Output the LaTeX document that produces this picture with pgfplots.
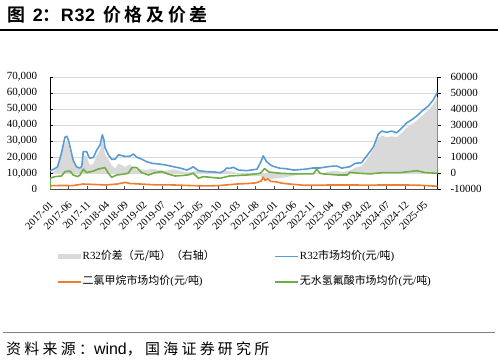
\documentclass[border=0pt]{standalone}
\usepackage{fontspec}
\setmainfont{Liberation Serif}
\newfontfamily\cjk{Noto Sans CJK SC}
\newfontfamily\cjktitle{Noto Sans CJK SC Bold}[LetterSpace=21]
\newfontfamily\lattitle{Liberation Sans Bold}[LetterSpace=4]
\newfontfamily\cjkfoot{Noto Sans CJK SC}[LetterSpace=22]
\newfontfamily\latfoot{Liberation Sans}
\usepackage{pgfplots}
\pgfplotsset{compat=1.18}
\definecolor{cblue}{RGB}{91,155,213}
\definecolor{corange}{RGB}{237,125,49}
\definecolor{cgreen}{RGB}{112,173,71}
\definecolor{cgray}{RGB}{217,217,217}
\definecolor{cgrid}{RGB}{217,217,217}
\pgfplotsset{
  common/.style={
    at={(50bp,173.7bp)}, anchor=south west, scale only axis,
    width=387.5bp, height=112.3bp, xmin=0, xmax=103.6,
    scaled y ticks=false, scaled x ticks=false,
    legend style={draw=none, fill=none, anchor=north west, inner sep=0pt,
      row sep=12.5bp, font=\fontsize{11}{13}\selectfont,
      nodes={inner sep=1.2bp, text height=8bp, text depth=2.5bp}},
    legend cell align=left,
  }
}
\begin{document}
\begin{tikzpicture}
\useasboundingbox (0bp,0bp) rectangle (498bp,363bp);
\node[anchor=base west, inner sep=0pt] at (7bp,341bp) {\fontsize{18}{21}\cjktitle 图 {\lattitle 2}：{\lattitle R32} 价格及价差};
\draw[line width=1.2bp] (0bp,333bp) -- (498bp,333bp);
\draw[line width=1.3bp, color=black!50] (3bp,30.7bp) -- (495bp,30.7bp);
\node[anchor=base west, inner sep=0pt] at (6bp,8.5bp) {\fontsize{15}{18}\cjkfoot 资料来源：{\latfoot\fontsize{16}{18}\selectfont wind}，国海证券研究所};

% right axis: spread (area)
\begin{axis}[common,
  ymin=-10000, ymax=60000,
  axis x line=none, axis y line*=right,
  ytick={-10000,0,10000,20000,30000,40000,50000,60000},
  yticklabels={-10000,0,10000,20000,30000,40000,50000,60000},
  ymajorgrids, grid style={cgrid, line width=0.8bp},
  tick align=outside, major tick length=3bp,
  y axis line style={black, line width=0.8bp},
  ytick style={black, line width=0.8bp},
  yticklabel style={font=\fontsize{11}{13}\selectfont, inner sep=0pt, anchor=west, xshift=9.8bp},
  legend style={at={(axis description cs:0.0173,-0.54)}},
  legend image code/.code={\draw[#1] (0bp,0bp) -- (23bp,0bp);},
]
\addplot[fill=cgray, draw=none,
  legend image code/.code={\fill[cgray] (0bp,-2.5bp) rectangle (23bp,2.5bp);}]
coordinates {
(0,300) (1,1000) (2,3500) (3,12000) (4,19000) (4.5,20000) (5,17000) (5.5,12000) (6.2,7000) (7.1,3500) (8,2800) (8.5,4000) (8.9,10500) (9.8,11000) (10.3,7000) (10.7,5000) (11.6,6000) (12.5,11000) (13.4,14500) (14,21500) (14.4,17000) (14.7,12000) (15.6,8500) (16.5,5000) (17.4,3000) (18.3,6000) (19.2,5000) (20.1,4000) (21.4,5500) (22.3,3500) (23.2,2000) (24.5,2500) (25.9,2000) (27.2,2800) (29,2000) (30.8,1500) (33,2500) (34.8,1500) (36.6,500) (38.3,1000) (39.7,1500) (41.9,1200) (44,800) (45.5,600) (47.3,1500) (49,1000) (50.4,-500) (52.6,-1500) (55.3,-2000) (56.2,-1500) (57,-4000) (57.9,-4500) (59.3,-3500) (61.5,-3000) (63,-2500) (65.1,-1500) (68.6,-500) (70.4,500) (72.2,-500) (74.9,1200) (76.7,1500) (78,800) (80.2,1500) (81.6,3500) (83.3,4500) (84.2,7000) (85.6,11500) (86.5,15000) (87.8,22000) (88.7,23500) (90,22500) (91.4,23000) (92.7,22500) (94,25000) (95.4,28500) (96.7,30500) (98.1,33000) (99.8,36500) (101.2,39500) (102.5,43000) (103.6,47500)
} \closedcycle;
\addlegendentry{R32{\cjk 价差（元/吨）（右轴）}}
\addlegendimage{corange, line width=1.6bp}
\addlegendentry{{\cjk 二氯甲烷市场均价}({\cjk 元}/{\cjk 吨})}
\end{axis}

% left axis: prices
\begin{axis}[common,
  ymin=0, ymax=70000,
  axis x line*=bottom, axis y line*=left,
  xtick={0,5,...,100},
  xticklabels={2017-01,2017-06,2017-11,2018-04,2018-09,2019-02,2019-07,2019-12,2020-05,2020-10,2021-03,2021-08,2022-01,2022-06,2022-11,2023-04,2023-09,2024-02,2024-07,2024-12,2025-05},
  ytick={0,10000,20000,30000,40000,50000,60000,70000},
  yticklabels={{0},{10,000},{20,000},{30,000},{40,000},{50,000},{60,000},{70,000}},
  tick align=inside, major tick length=3bp,
  y axis line style={black, line width=0.8bp},
  x axis line style={black!70, line width=0.8bp},
  ytick style={black, line width=0.8bp},
  xtick style={black!70, line width=0.8bp},
  yticklabel style={font=\fontsize{11}{13}\selectfont, inner sep=0pt, xshift=-12.7bp},
  xticklabel style={font=\fontsize{10.5}{12}\selectfont, inner sep=0pt, xshift=-1bp, yshift=-11bp, rotate=45, anchor=north east},
  legend style={at={(axis description cs:0.578,-0.54)}},
  legend image code/.code={\draw[#1] (0bp,0bp) -- (23bp,0bp);},
]
\addplot[corange, line width=1.6bp, line join=round, forget plot] coordinates {
(0,2200) (3,2400) (6,2300) (8.9,3300) (12,3000) (15,2700) (18,3300) (20.1,4300) (21.5,3600) (24,3300) (28,2800) (33,2700) (38,2300) (42,2100) (45,2300) (47,2700) (50,3300) (53,3600) (55,4000) (56.5,5200) (57,7500) (57.5,5500) (58.2,6500) (59,5000) (60.5,4600) (62,3800) (64,3300) (68,2500) (72,2600) (76,2700) (80,2700) (85,2600) (90,2700) (95,2700) (99,2500) (103.6,1900)
};
\addplot[cblue, line width=1.6bp, line join=round] coordinates {
(0,11500) (1,12500) (2,14000) (3,22000) (4,32500) (4.5,33000) (5,30000) (5.5,25000) (6.2,18000) (7.1,14000) (8,13200) (8.5,14500) (8.9,23500) (9.8,23500) (10.3,20500) (10.7,19400) (11.6,19800) (12.5,24500) (13.4,27700) (14,34000) (14.4,31000) (14.7,26000) (15.6,21500) (16.5,18700) (17.4,18700) (18.3,21500) (19.2,21000) (20.1,20500) (21.4,20600) (22.3,22000) (23.2,20000) (24.5,18800) (25.9,17200) (27.2,16200) (29,15800) (30.8,15200) (33,14100) (34.8,13200) (36.6,12000) (37.5,13000) (38.3,14000) (39.7,11600) (41.9,11000) (44,10800) (45.5,10300) (46.5,11500) (47.3,13300) (48,13000) (49,13700) (50.4,12000) (52.6,11600) (55.3,12500) (56.2,16200) (57,20800) (57.9,17200) (59.3,14600) (61.5,13100) (63,12900) (65.1,12000) (68.6,12600) (70.4,13300) (72.2,13300) (74.9,14300) (76.7,14500) (78,13200) (80.2,14100) (81.6,16200) (83.3,16600) (84.2,19400) (85.6,23500) (86.5,26600) (87.8,34500) (88.7,36300) (90,35500) (91.4,36300) (92.7,35200) (94,38100) (95.4,41500) (96.7,43300) (98.1,45800) (99.8,49500) (101.2,52000) (102.5,55800) (103.6,60500)
};
\addlegendentry{R32{\cjk 市场均价}({\cjk 元}/{\cjk 吨})}
\addplot[cgreen, line width=1.6bp, line join=round] coordinates {
(0,0) (0.05,6900) (1.3,7900) (3.1,8300) (4,11000) (5.35,11400) (6.2,8900) (7.4,7900) (8,8900) (8.9,12500) (9.8,10400) (11.6,11400) (13,12700) (14.7,13500) (15.6,10000) (16.5,7500) (17.8,8900) (19.6,9400) (20.9,10000) (22,13700) (23.2,13500) (24.5,10400) (26.3,8900) (28.1,10400) (29.9,11000) (31.7,9400) (33.5,8300) (35.3,8600) (37,9000) (38.3,10000) (39.7,6900) (41,7900) (45.5,6900) (48,8300) (52.6,8900) (56.2,10000) (57.4,12900) (58.5,10800) (61.5,10000) (65.1,9600) (70.4,9600) (71.3,12500) (72.2,10000) (73,9600) (77,8900) (79.5,8900) (80.2,10600) (82.6,10000) (85.6,9600) (88.9,10400) (93.6,10400) (98.1,11600) (100.3,10400) (103.6,10000)
};
\addlegendentry{{\cjk 无水氢氟酸市场均价}({\cjk 元}/{\cjk 吨})}
\end{axis}
\end{tikzpicture}
\end{document}
